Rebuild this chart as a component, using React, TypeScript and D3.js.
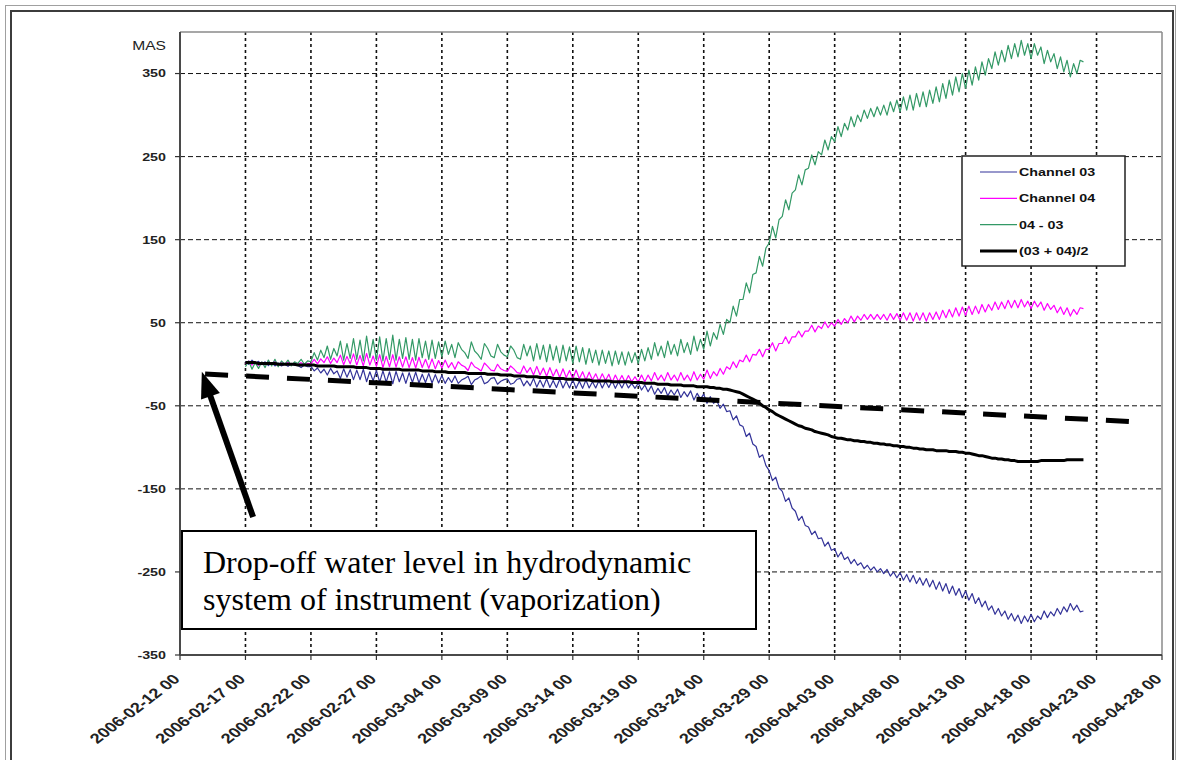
import React, { useEffect, useRef } from 'react';
import * as d3 from 'd3';

// 6-hourly samples, first one 2006-02-17 00:00
const sampleStart = Date.UTC(2006, 1, 17, 0);
const sampleStepHours = 6;

// 04 - 03 (green), four samples per day
const diff0403 = [
  -3, 4, -6, 2, -5, 3, -4, 5, -2, 6, -3, 4, 0, 5, -2, 3, 1, 6, 0, 4,
  3, 14, 5, 17, 8, 22, 6, 19, 10, 28, 5, 25, 7, 31, 6, 29, 4, 34, 8, 30,
  5, 33, 4, 31, 6, 35, 5, 30, 7, 32, 6, 30, 5, 31, 8, 28, 6, 29, 7, 27,
  9, 28, 12, 24, 8, 26, 18, 14, 7, 27, 16, 12, 6, 25, 19, 10, 8, 24, 15, 11,
  9, 22, 17, 8, 6, 24, 10, 22, 4, 25, 6, 23, 3, 24, 5, 22, 2, 23, 4, 21,
  1, 22, 3, 20, 0, 19, 2, 17, -1, 17, 1, 16, -2, 16, 0, 15, -1, 15, 2, 14,
  1, 18, 4, 20, 6, 26, 10, 22, 8, 28, 12, 24, 10, 30, 14, 26, 12, 34, 16, 30,
  18, 40, 22, 38, 30, 48, 36, 54, 50, 70, 58, 78, 78, 98, 86, 108, 110, 130, 118, 140,
  146, 166, 152, 174, 178, 198, 186, 206, 210, 228, 216, 234, 236, 252, 240, 256, 252, 270, 258, 274,
  268, 286, 274, 290, 282, 298, 286, 300, 292, 306, 296, 308, 298, 310, 300, 312, 300, 316, 304, 318,
  304, 322, 306, 324, 306, 326, 310, 328, 310, 330, 314, 334, 316, 338, 320, 342, 324, 346, 328, 350,
  332, 354, 336, 358, 342, 364, 348, 368, 356, 376, 360, 378, 364, 384, 368, 386, 370, 390, 372, 386,
  368, 386, 372, 382, 362, 378, 364, 374, 356, 370, 352, 366, 346, 362, 350, 366,
  364,
];

// (03 + 04)/2 (black), same sampling
const mean0304 = [
  2, 2, 2, 2, 1, 1, 1, 1, 1, 1, 0, 0, 0, 0, 0, 0, -1, -1, -1, -1,
  -1, -1, -2, -2, -2, -2, -2, -2, -3, -3, -3, -3, -3, -3, -4, -4, -4, -4, -5, -5,
  -5, -5, -6, -6, -6, -6, -6, -6, -7, -7, -7, -7, -7, -7, -8, -8, -8, -8, -9, -9,
  -9, -9, -10, -10, -10, -10, -10, -10, -11, -11, -11, -11, -11, -11, -12, -12, -12, -12, -13, -13,
  -13, -13, -14, -14, -14, -14, -15, -15, -15, -15, -16, -16, -16, -16, -17, -17, -17, -17, -18, -18,
  -18, -18, -19, -19, -19, -19, -20, -20, -20, -20, -20, -20, -21, -21, -21, -21, -21, -21, -22, -22,
  -22, -22, -23, -23, -23, -23, -24, -24, -24, -24, -25, -25, -25, -25, -26, -26, -26, -26, -27, -27,
  -27, -27, -28, -28, -29, -29, -30, -30, -31, -32, -33, -34, -36, -38, -40, -42, -44, -47, -50, -52,
  -55, -57, -60, -62, -64, -66, -68, -70, -72, -74, -75, -77, -78, -79, -81, -82, -83, -84, -85, -87,
  -88, -89, -89, -90, -91, -91, -92, -92, -93, -93, -94, -94, -95, -95, -96, -96, -97, -97, -98, -98,
  -99, -99, -100, -100, -101, -101, -102, -102, -103, -103, -103, -104, -104, -104, -104, -105, -105, -105, -106, -106,
  -107, -107, -108, -109, -110, -110, -111, -112, -113, -113, -114, -114, -115, -115, -116, -116, -117, -117, -117, -117,
  -117, -117, -117, -116, -116, -116, -116, -116, -116, -116, -116, -115, -115, -115, -115, -115,
  -115,
];

const yTicks = [-350, -250, -150, -50, 50, 150, 250, 350];
const xTickDays = [
  '2006-02-12', '2006-02-17', '2006-02-22', '2006-02-27', '2006-03-04', '2006-03-09',
  '2006-03-14', '2006-03-19', '2006-03-24', '2006-03-29', '2006-04-03', '2006-04-08',
  '2006-04-13', '2006-04-18', '2006-04-23', '2006-04-28',
];

const seriesNames = ['Channel 03', 'Channel 04', '04 - 03', '(03 + 04)/2'];
const seriesColors = ['#333399', '#ff00ff', '#339966', '#000000'];
const seriesWidths = [1.2, 1.2, 1.2, 3];

// dashed drop-off trend and arrow (date, MAS)
const trendLine: [number, number][] = [
  [Date.UTC(2006, 1, 13, 22), -11.7],
  [Date.UTC(2006, 3, 26, 7), -69.5],
];
const arrowLine: [number, number][] = [
  [Date.UTC(2006, 1, 17, 14), -184],
  [Date.UTC(2006, 1, 13, 16), -9],
];
const noteLines = ['Drop-off water level in hydrodynamic', 'system of instrument (vaporization)'];

const W = 1179;
const H = 760;
const SX = 1.3; // the original picture is stretched sideways

const App: React.FC = () => {
  const ref = useRef<SVGSVGElement>(null);

  useEffect(() => {
    const svg = d3.select(ref.current);
    svg.selectAll('*').remove();

    const left = 180, right = 1162, top = 32, bottom = 655;
    const x = d3.scaleUtc()
      .domain([new Date(Date.UTC(2006, 1, 12)), new Date(Date.UTC(2006, 3, 28))])
      .range([left, right]);
    const y = d3.scaleLinear().domain([-350, 400]).range([bottom, top]);

    const n = Math.min(diff0403.length, mean0304.length);
    const times = d3.range(n).map(i => new Date(sampleStart + i * sampleStepHours * 3600000));
    const ch3 = d3.range(n).map(i => mean0304[i] - diff0403[i] / 2);
    const ch4 = d3.range(n).map(i => mean0304[i] + diff0403[i] / 2);
    const series = [ch3, ch4, diff0403.slice(0, n), mean0304.slice(0, n)];

    // frame
    svg.append('rect').attr('width', W).attr('height', H).attr('fill', '#fff');
    svg.append('rect').attr('x', 5.5).attr('y', 5.5).attr('width', 1170).attr('height', 820)
      .attr('fill', 'none').attr('stroke', '#a0a0a0').attr('stroke-width', 1);
    svg.append('rect').attr('x', 11).attr('y', 11).attr('width', 1162).attr('height', 820)
      .attr('fill', 'none').attr('stroke', '#3c3c3c').attr('stroke-width', 2);

    const xTicks = xTickDays.map(s => new Date(s + 'T00:00:00Z'));

    // grid
    const g = svg.append('g');
    g.selectAll('.hgrid').data(yTicks.filter(v => v > -350)).enter().append('line')
      .attr('x1', left).attr('x2', right)
      .attr('y1', d => y(d)).attr('y2', d => y(d))
      .attr('stroke', '#111').attr('stroke-width', 1).attr('stroke-dasharray', '5 3');
    g.selectAll('.vgrid').data(xTicks.slice(1, -1)).enter().append('line')
      .attr('x1', d => x(d)).attr('x2', d => x(d))
      .attr('y1', top).attr('y2', bottom)
      .attr('stroke', '#111').attr('stroke-width', 1.6).attr('stroke-dasharray', '3 3');

    // plot border and axes
    g.append('line').attr('x1', left).attr('x2', right).attr('y1', top).attr('y2', top)
      .attr('stroke', '#8a8a8a').attr('stroke-width', 1.5);
    g.append('line').attr('x1', right).attr('x2', right).attr('y1', top).attr('y2', bottom)
      .attr('stroke', '#8a8a8a').attr('stroke-width', 1.5);
    g.append('line').attr('x1', left).attr('x2', left).attr('y1', top).attr('y2', bottom)
      .attr('stroke', '#4a4a4a').attr('stroke-width', 2);
    g.append('line').attr('x1', left).attr('x2', right).attr('y1', bottom).attr('y2', bottom)
      .attr('stroke', '#4a4a4a').attr('stroke-width', 2);

    g.selectAll('.ytick').data(yTicks).enter().append('line')
      .attr('x1', left - 5).attr('x2', left).attr('y1', d => y(d)).attr('y2', d => y(d))
      .attr('stroke', '#333').attr('stroke-width', 1.2);
    g.selectAll('.xtick').data(xTicks).enter().append('line')
      .attr('x1', d => x(d)).attr('x2', d => x(d)).attr('y1', bottom).attr('y2', bottom + 5)
      .attr('stroke', '#333').attr('stroke-width', 1.2);

    const font = '"Liberation Sans", Arial, sans-serif';
    g.selectAll('.ylab').data(yTicks).enter().append('text')
      .attr('transform', d => `translate(166,${y(d)}) scale(${SX},1)`)
      .attr('text-anchor', 'end').attr('dy', '0.36em')
      .attr('font-family', font).attr('font-size', 11).attr('font-weight', 'bold').attr('fill', '#222')
      .text(d => String(d));
    g.append('text')
      .attr('transform', `translate(166,50) scale(${SX},1)`)
      .attr('text-anchor', 'end')
      .attr('font-family', font).attr('font-size', 12).attr('fill', '#222')
      .text('MAS');

    g.selectAll('.xlab').data(xTicks).enter().append('text')
      .attr('transform', d => `translate(${x(d) + 1},680) scale(${SX},1) rotate(-45)`)
      .attr('text-anchor', 'end')
      .attr('font-family', font).attr('font-size', 14).attr('font-weight', 'bold').attr('fill', '#222')
      .text(d => d3.utcFormat('%Y-%m-%d')(d) + ' 00');

    // series
    series.forEach((vals, k) => {
      const line = d3.line<number>()
        .x((_, i) => x(times[i]))
        .y(v => y(v));
      g.append('path').datum(vals)
        .attr('d', line)
        .attr('fill', 'none')
        .attr('stroke', seriesColors[k])
        .attr('stroke-width', seriesWidths[k])
        .attr('stroke-linejoin', 'round');
    });

    // legend
    const lg = g.append('g');
    lg.append('rect').attr('x', 962).attr('y', 156).attr('width', 163).attr('height', 110)
      .attr('fill', '#fff').attr('stroke', '#222').attr('stroke-width', 1.5);
    seriesNames.forEach((name, k) => {
      const ly = 172 + k * 26.3;
      lg.append('line').attr('x1', 980).attr('x2', 1017).attr('y1', ly).attr('y2', ly)
        .attr('stroke', seriesColors[k]).attr('stroke-width', seriesWidths[k]);
      lg.append('text')
        .attr('transform', `translate(1019,${ly}) scale(${SX},1)`)
        .attr('dy', '0.36em')
        .attr('font-family', font).attr('font-size', 11).attr('font-weight', 'bold').attr('fill', '#111')
        .text(name);
    });

    // drop-off trend
    g.append('line')
      .attr('x1', x(new Date(trendLine[0][0]))).attr('y1', y(trendLine[0][1]))
      .attr('x2', x(new Date(trendLine[1][0]))).attr('y2', y(trendLine[1][1]))
      .attr('stroke', '#000').attr('stroke-width', 5).attr('stroke-dasharray', '23 18');

    // arrow
    const ax0 = x(new Date(arrowLine[0][0])), ay0 = y(arrowLine[0][1]);
    const ax1 = x(new Date(arrowLine[1][0])), ay1 = y(arrowLine[1][1]);
    const len = Math.hypot(ax1 - ax0, ay1 - ay0);
    const ux = (ax1 - ax0) / len, uy = (ay1 - ay0) / len;
    const headL = 26, headW = 10;
    const bx = ax1 - ux * headL, by = ay1 - uy * headL;
    g.append('line').attr('x1', ax0).attr('y1', ay0).attr('x2', bx + ux * 2).attr('y2', by + uy * 2)
      .attr('stroke', '#000').attr('stroke-width', 6);
    g.append('path')
      .attr('d', `M${ax1},${ay1} L${bx - uy * headW},${by + ux * headW} L${bx + uy * headW},${by - ux * headW} Z`)
      .attr('fill', '#000');

    // note box
    g.append('rect').attr('x', 182).attr('y', 531).attr('width', 574).attr('height', 98)
      .attr('fill', '#fff').attr('stroke', '#000').attr('stroke-width', 2);
    noteLines.forEach((t, i) => {
      g.append('text').attr('x', 203).attr('y', 573 + i * 37)
        .attr('font-family', '"Liberation Serif", "Times New Roman", serif').attr('font-size', 32)
        .attr('fill', '#000').text(t);
    });
  }, []);

  return (
    <svg ref={ref} width={W} height={H}
      style={{ position: 'absolute', left: 0, top: 0, display: 'block' }} />
  );
};

export default App;
